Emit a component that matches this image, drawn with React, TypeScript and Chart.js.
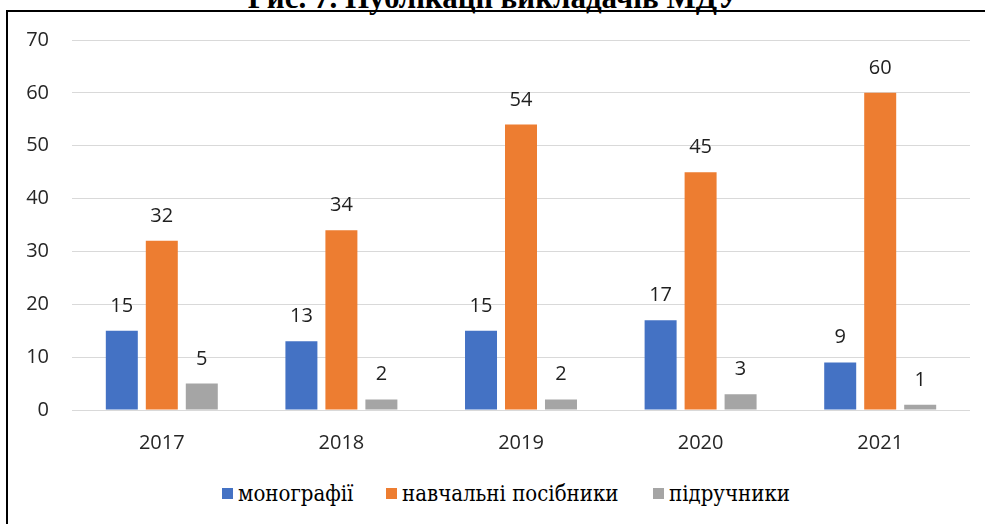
import React, { useEffect, useRef } from "react";
import { Chart, registerables } from "chart.js";

Chart.register(...registerables);

const titleText = "Рис. 7. Публікації викладачів МДУ";
const categories = ["2017", "2018", "2019", "2020", "2021"];
const seriesNames = ["монографії", "навчальні посібники", "підручники"];
const monographs = [15, 13, 15, 17, 9];
const studyGuides = [32, 34, 54, 45, 60];
const textbooks = [5, 2, 2, 3, 1];
const seriesColors = ["#4472C4", "#ED7D31", "#A5A5A5"];
const yMin = 0;
const yMax = 70;
const yStep = 10;

const legendX = [222, 386, 653];

const tickFont = { family: "'Open Sans', 'Noto Sans', sans-serif", size: 20 };
const titleFamily = "Liberation Serif";
const legendFamily = "'DejaVu Serif Condensed', 'DejaVu Serif', serif";

const barLabelPlugin = {
  id: "barLabels",
  afterDatasetsDraw(chart: any) {
    const ctx = chart.ctx;
    ctx.save();
    ctx.font = "20px 'Open Sans', 'Noto Sans', sans-serif";
    ctx.fillStyle = "#1f1f1f";
    ctx.textAlign = "center";
    ctx.textBaseline = "alphabetic";
    chart.data.datasets.forEach((ds: any, i: number) => {
      const meta = chart.getDatasetMeta(i);
      meta.data.forEach((bar: any, j: number) => {
        ctx.fillText(String(ds.data[j]), bar.x, bar.y - 19);
      });
    });
    ctx.restore();
  },
};

export default function App() {
  const canvasRef = useRef<HTMLCanvasElement | null>(null);

  useEffect(() => {
    if (!canvasRef.current) return;
    const seriesData = [monographs, studyGuides, textbooks];
    const chart = new Chart(canvasRef.current, {
      type: "bar",
      data: {
        labels: categories,
        datasets: seriesNames.map((name, i) => ({
          label: name,
          data: seriesData[i],
          backgroundColor: seriesColors[i],
          borderWidth: 0,
          categoryPercentage: 0.668,
          barPercentage: 0.8,
        })),
      },
      options: {
        animation: false,
        responsive: false,
        devicePixelRatio: 1,
        layout: { padding: { left: 26, right: 15, top: 40, bottom: 0 } },
        plugins: {
          legend: { display: false },
          title: { display: false },
          tooltip: { enabled: false },
        },
        scales: {
          x: {
            grid: { display: false },
            border: { display: false },
            ticks: { color: "#262626", font: tickFont, padding: 13 },
            afterFit: (s: any) => {
              s.height = 60;
            },
          },
          y: {
            min: yMin,
            max: yMax,
            ticks: { stepSize: yStep, color: "#262626", font: tickFont, padding: 23 },
            grid: { color: "#D9D9D9", drawTicks: false, lineWidth: 1 },
            border: { display: false },
            afterFit: (s: any) => {
              s.width = 46;
            },
          },
        },
      },
      plugins: [barLabelPlugin],
    });
    return () => chart.destroy();
  }, []);

  return (
    <div
      style={{
        position: "absolute",
        left: 0,
        top: 0,
        width: 985,
        height: 524,
        overflow: "hidden",
        background: "#fff",
      }}
    >
      <div
        style={{
          position: "absolute",
          left: 0,
          top: -18,
          width: 988,
          textAlign: "center",
          fontFamily: titleFamily,
          fontWeight: "bold",
          fontSize: 31,
          lineHeight: "31px",
          whiteSpace: "nowrap",
          color: "#000",
        }}
      >
        {titleText}
      </div>
      <div
        style={{
          position: "absolute",
          left: 6,
          top: 10,
          width: 1100,
          height: 700,
          borderLeft: "2px solid #000",
          borderTop: "2px solid #000",
        }}
      />
      <canvas
        ref={canvasRef}
        width={985}
        height={470}
        style={{ position: "absolute", left: 0, top: 0, width: 985, height: 470 }}
      />
      {seriesNames.map((name, i) => (
        <React.Fragment key={name}>
          <div
            style={{
              position: "absolute",
              left: legendX[i],
              top: 488,
              width: 11,
              height: 11,
              background: seriesColors[i],
            }}
          />
          <span
            style={{
              position: "absolute",
              left: legendX[i] + 16,
              top: 483,
              fontFamily: legendFamily,
              fontStretch: "condensed",
              fontWeight: "normal",
              fontSize: 22,
              lineHeight: "22px",
              whiteSpace: "nowrap",
              color: "#000",
            }}
          >
            {name}
          </span>
        </React.Fragment>
      ))}
    </div>
  );
}
